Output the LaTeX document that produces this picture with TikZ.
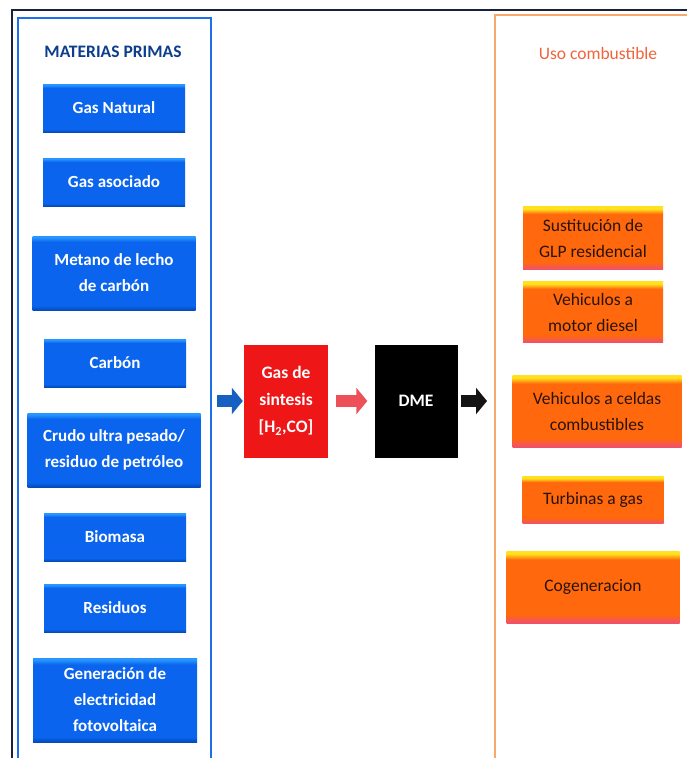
\documentclass[tikz,border=0pt]{standalone}
\usepackage{fontspec}
\setmainfont{Carlito}
\usepackage{xcolor}
\usepackage{tikz}
\usetikzlibrary{arrows.meta, positioning}

\definecolor{marco}{RGB}{25,32,64}
\definecolor{mpborde}{RGB}{31,111,232}
\definecolor{mptitulo}{RGB}{12,62,140}
\definecolor{mpclaro}{RGB}{40,150,255}
\definecolor{mpazul}{RGB}{10,100,238}
\definecolor{mposcuro}{RGB}{5,75,185}
\definecolor{usoborde}{RGB}{248,168,104}
\definecolor{usotitulo}{RGB}{240,100,60}
\definecolor{usoamarillo}{RGB}{255,225,30}
\definecolor{usonaranja}{RGB}{255,104,12}
\definecolor{usorosa}{RGB}{240,80,110}
\definecolor{usotexto}{RGB}{40,20,10}
\definecolor{sinrojo}{RGB}{238,22,22}
\definecolor{flazul}{RGB}{21,96,192}
\definecolor{flrojo}{RGB}{238,80,90}
\definecolor{flnegro}{RGB}{20,20,20}

\pgfdeclareverticalshading{mpsombra}{100bp}{color(0bp)=(mposcuro); color(25bp)=(mposcuro); color(28bp)=(mpazul); color(71bp)=(mpazul); color(74bp)=(mpclaro); color(100bp)=(mpclaro)}
\pgfdeclareverticalshading{usosombra}{100bp}{color(0bp)=(usorosa); color(25bp)=(usorosa); color(31bp)=(usonaranja); color(69bp)=(usonaranja); color(73bp)=(usoamarillo); color(100bp)=(usoamarillo)}

\begin{document}
\begin{tikzpicture}[
  x=1pt, y=-1pt,
  panel/.style={anchor=north west, line width=2pt, inner sep=0pt},
  titulo/.style={font=\fontsize{17.5}{21}\selectfont\bfseries},
  materia/.style={shade, shading=mpsombra, minimum width=142pt, minimum height=48pt, inner sep=0pt, align=center, text=white, font=\fontsize{17}{26}\selectfont\bfseries},
  uso/.style={shade, shading=usosombra, minimum width=140pt, minimum height=48pt, inner sep=0pt, align=center, text=usotexto, font=\fontsize{17.5}{26}\selectfont},
  proceso/.style={minimum width=84pt, minimum height=113pt, inner sep=0pt, align=center, text=white, font=\fontsize{17.5}{27}\selectfont\bfseries},
  flecha/.style={line width=12pt, -{Triangle[length=11pt, width=26pt]}},
]
\useasboundingbox[fill=white] (0,0) rectangle (687,758);

% Frames
\draw[marco, line width=2pt] (12,770) -- (12,10) -- (700,10);
\node[panel, draw=mpborde, minimum width=193pt, minimum height=753pt] (materias) at (17,17) {};
\node[panel, draw=usoborde, minimum width=206pt, minimum height=756pt] (usos) at (494,14) {};

% Materias primas
\node[titulo, text=mptitulo] (mptit) at (113,52) {MATERIAS PRIMAS};
\node[materia] (gasnat) at (114,108) {Gas Natural};
\node[materia] (gasaso) at (114,182) {Gas asociado};
\node[materia, minimum width=163pt, minimum height=74pt] (metano) at (114,273) {Metano de lecho\\de carbón};
\node[materia] (carbon) at (115,363) {Carbón};
\node[materia, minimum width=173pt, minimum height=74pt] (crudo) at (114,450) {Crudo ultra pesado/\\residuo de petróleo};
\node[materia] (biomasa) at (115,537) {Biomasa};
\node[materia] (residuos) at (115,608) {Residuos};
\node[materia, minimum width=164pt, minimum height=84pt] (fotovolt) at (115,700) {Generación de\\electricidad\\fotovoltaica};

% Proceso
\node[proceso, fill=sinrojo] (sintesis) at (286,401) {Gas de\\sintesis\\{[}H\textsubscript{2},CO{]}};
\node[proceso, fill=black, minimum width=83pt] (dme) at (416,401) {DME};

% Uso combustible
\node[titulo, text=usotitulo, font=\fontsize{17.5}{21}\selectfont] (usotit) at (598,53) {Uso combustible};
\node[uso, minimum height=63pt] (glp) at (593,238) {Sustitución de\\GLP residencial};
\node[uso, minimum height=61pt] (diesel) at (593,312) {Vehiculos a\\motor diesel};
\node[uso, minimum width=169pt, minimum height=72pt] (celdas) at (597,411) {Vehiculos a celdas\\combustibles};
\node[uso, minimum width=141pt, minimum height=47pt] (turbinas) at (593,500) {Turbinas a gas};
\node[uso, minimum width=173pt, minimum height=72pt] (cogen) at (593,587) {Cogeneracion};

% Flechas
\draw[flecha, flazul, shorten <=5pt, shorten >=1pt] (materias.east |- sintesis.west) -- (sintesis.west);
\draw[flecha, flrojo, shorten <=8pt, shorten >=7pt] (sintesis.east) -- (dme.west);
\draw[flecha, flnegro, shorten <=3pt, shorten >=7pt] (dme.east) -- (dme.east -| usos.west);
\end{tikzpicture}
\end{document}
